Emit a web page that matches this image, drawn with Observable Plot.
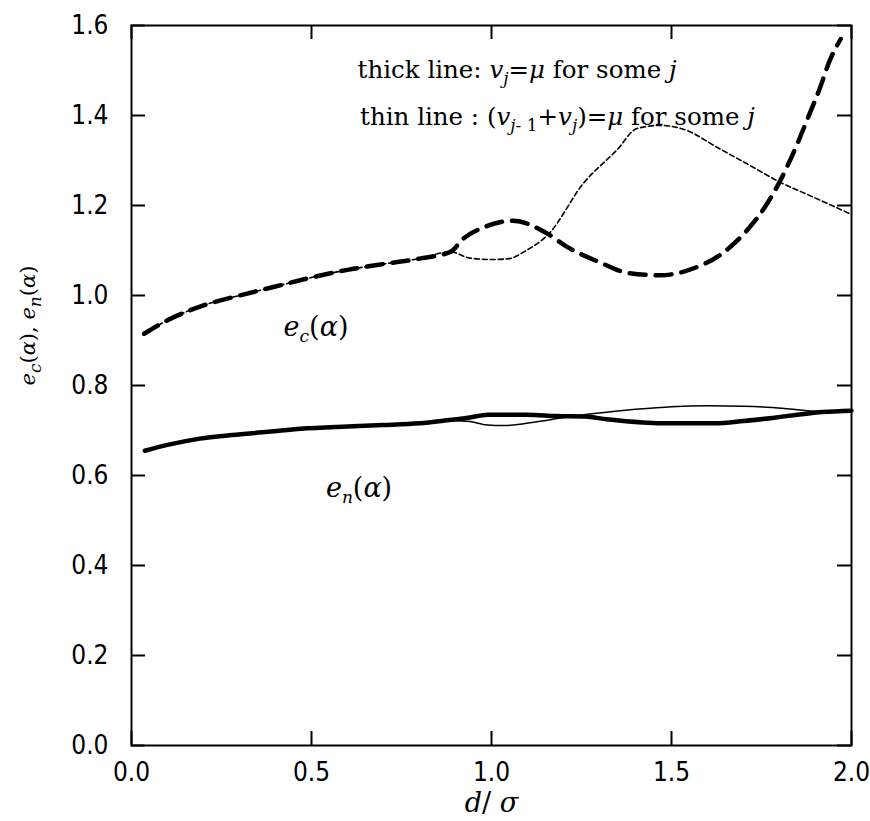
<!DOCTYPE html>
<html>
<head>
<meta charset="utf-8">
<script src="https://cdn.jsdelivr.net/npm/d3@7"></script>
<script src="https://cdn.jsdelivr.net/npm/@observablehq/plot@0.6"></script>
<style>
  html, body { margin: 0; padding: 0; background: white; }
</style>
</head>
<body>
<div id="chart"></div>
<script>
// ---- data ----
const xTicks = [0.0, 0.5, 1.0, 1.5, 2.0];
const yTicks = [0.0, 0.2, 0.4, 0.6, 0.8, 1.0, 1.2, 1.4, 1.6];

// e_c(alpha), thick dashed line: v_j = mu for some j
const ecThickD = [0.035, 0.1, 0.2, 0.3, 0.4, 0.5, 0.6, 0.7, 0.8, 0.886, 0.92, 0.98, 1.06, 1.15, 1.21, 1.3, 1.38, 1.47, 1.56, 1.64, 1.71, 1.76, 1.80, 1.85, 1.88, 1.91, 1.94, 1.97];
const ecThickV = [0.915, 0.945, 0.978, 1.0, 1.02, 1.04, 1.057, 1.07, 1.082, 1.097, 1.125, 1.152, 1.166, 1.14, 1.108, 1.074, 1.05, 1.045, 1.06, 1.093, 1.145, 1.197, 1.252, 1.338, 1.397, 1.456, 1.523, 1.57];

// e_c(alpha), thin line: (v_{j-1}+v_j) = mu for some j
const ecThinD = [0.035, 0.1, 0.2, 0.3, 0.4, 0.5, 0.6, 0.7, 0.8, 0.886, 0.94, 1.0, 1.05, 1.09, 1.16, 1.255, 1.348, 1.404, 1.468, 1.542, 1.625, 1.709, 1.801, 1.893, 2.0];
const ecThinV = [0.915, 0.945, 0.978, 1.0, 1.02, 1.04, 1.057, 1.07, 1.082, 1.097, 1.083, 1.08, 1.082, 1.097, 1.138, 1.249, 1.323, 1.371, 1.378, 1.367, 1.33, 1.293, 1.252, 1.219, 1.18];

// e_n(alpha), thick solid line
const enThickD = [0.037, 0.1, 0.19, 0.28, 0.38, 0.47, 0.6, 0.7, 0.8, 0.87, 0.94, 0.99, 1.1, 1.18, 1.26, 1.32, 1.42, 1.5, 1.62, 1.7, 1.78, 1.85, 1.92, 2.0];
const enThickV = [0.655, 0.668, 0.682, 0.69, 0.697, 0.704, 0.709, 0.712, 0.716, 0.722, 0.729, 0.735, 0.735, 0.732, 0.731, 0.725, 0.718, 0.716, 0.716, 0.721, 0.728, 0.735, 0.741, 0.744];

// e_n(alpha), thin solid line
const enThinD = [0.037, 0.1, 0.19, 0.28, 0.38, 0.47, 0.6, 0.7, 0.8, 0.87, 0.94, 0.98, 1.04, 1.09, 1.14, 1.2, 1.3, 1.4, 1.5, 1.6, 1.7, 1.78, 1.85, 1.92, 2.0];
const enThinV = [0.655, 0.668, 0.682, 0.69, 0.697, 0.704, 0.709, 0.712, 0.716, 0.722, 0.72, 0.713, 0.711, 0.715, 0.721, 0.729, 0.739, 0.747, 0.753, 0.755, 0.754, 0.751, 0.746, 0.742, 0.744];

// text (markup: *...* italic, _{...} subscript)
const legendThick = "thick line: *v*_{*j*}=*μ* for some *j*";
const legendThin = "thin line : (*v*_{*j*- 1}+*v*_{*j*})=*μ* for some *j*";
const ecLabel = "*e*_{*c*}(*α*)";
const enLabel = "*e*_{*n*}(*α*)";
const yLabel = "*e*_{*c*}(*α*), *e*_{*n*}(*α*)";
const xLabel = "*d*/ *σ*";

// ---- build tables ----
const zip = (D, V) => D.map((d, i) => ({d, v: V[i]}));
const ecThick = zip(ecThickD, ecThickV);
const ecThin = zip(ecThinD, ecThinV);
const enThick = zip(enThickD, enThickV);
const enThin = zip(enThinD, enThinV);

const W = 870, H = 821, ML = 131, MR = 19, MT = 25, MB = 76;
const PW = W - ML - MR, PH = H - MT - MB, TL = 14;
const serif = "DejaVu Serif";

const chart = Plot.plot({
  width: W, height: H,
  marginLeft: ML, marginRight: MR, marginTop: MT, marginBottom: MB,
  x: {domain: [0, 2]},
  y: {domain: [0, 1.6]},
  style: {fontFamily: "DejaVu Sans Condensed", fontSize: "26px", color: "black", background: "white"},
  marks: [
    Plot.axisX(xTicks, {tickSize: 0, tickPadding: 17, tickFormat: d3.format(".1f"), fontSize: 26, label: null}),
    Plot.axisY(yTicks, {tickSize: 0, tickPadding: 23, tickFormat: d3.format(".1f"), fontSize: 26, label: null}),
    // inward ticks on all four sides
    Plot.ruleX(xTicks, {x: d => d, insetTop: PH - TL, stroke: "black", strokeWidth: 2}),
    Plot.ruleX(xTicks, {x: d => d, insetBottom: PH - TL, stroke: "black", strokeWidth: 2}),
    Plot.ruleY(yTicks, {y: d => d, insetRight: PW - TL, stroke: "black", strokeWidth: 2}),
    Plot.ruleY(yTicks, {y: d => d, insetLeft: PW - TL, stroke: "black", strokeWidth: 2}),
    Plot.frame({stroke: "black", strokeWidth: 2}),
    // curves
    Plot.line(enThick, {x: "d", y: "v", stroke: "black", strokeWidth: 4.5, curve: "monotone-x"}),
    Plot.line(enThin, {x: "d", y: "v", stroke: "black", strokeWidth: 1.5, curve: "monotone-x"}),
    Plot.line(ecThin, {x: "d", y: "v", stroke: "black", strokeWidth: 1.6, strokeDasharray: "5,3", curve: "monotone-x"}),
    Plot.line(ecThick, {x: "d", y: "v", stroke: "black", strokeWidth: 4.5, strokeDasharray: "16,10", curve: "monotone-x"}),
    // annotations
    Plot.text([legendThick], {x: 0.628, y: 1.483, text: d => d, textAnchor: "start", lineAnchor: "bottom", fontFamily: serif, fontSize: 24.5, className: "rich"}),
    Plot.text([legendThin], {x: 0.635, y: 1.38, text: d => d, textAnchor: "start", lineAnchor: "bottom", fontFamily: serif, fontSize: 24.5, className: "rich"}),
    Plot.text([ecLabel], {x: 0.4225, y: 0.91, text: d => d, textAnchor: "start", lineAnchor: "bottom", fontFamily: serif, fontSize: 27, className: "rich"}),
    Plot.text([enLabel], {x: 0.54, y: 0.553, text: d => d, textAnchor: "start", lineAnchor: "bottom", fontFamily: serif, fontSize: 27, className: "rich"}),
    Plot.text([yLabel], {frameAnchor: "left", dx: -103, rotate: -90, text: d => d, lineAnchor: "middle", fontFamily: serif, fontSize: 21, className: "rich"}),
    Plot.text([xLabel], {frameAnchor: "bottom", dy: 66, text: d => d, lineAnchor: "bottom", fontFamily: serif, fontSize: 27, className: "rich"})
  ]
});

// convert the small markup into real tspans
function parseMarkup(s) {
  const segs = [];
  let italic = false, sub = false, buf = "";
  const flush = () => { if (buf) segs.push({t: buf, italic, sub}); buf = ""; };
  for (let i = 0; i < s.length; i++) {
    const c = s[i];
    if (c === "*") { flush(); italic = !italic; }
    else if (c === "_" && s[i + 1] === "{") { flush(); sub = true; i++; }
    else if (c === "}" && sub) { flush(); sub = false; }
    else buf += c;
  }
  flush();
  return segs;
}
d3.select(chart).selectAll("g.rich text").each(function () {
  const el = d3.select(this);
  const raw = this.textContent;
  const fs = parseFloat(getComputedStyle(this).fontSize) || 20;
  el.text(null);
  const segs = parseMarkup(raw);
  let shifted = 0;
  for (const s of segs) {
    const target = s.sub ? Math.round(fs * 0.3) : 0;
    const ts = el.append("tspan")
      .attr("font-style", s.italic ? "italic" : "normal")
      .text(s.t);
    if (target !== shifted) { ts.attr("dy", target - shifted); shifted = target; }
    if (s.sub) ts.attr("font-size", Math.round(fs * 0.85));
  }
});

document.getElementById("chart").appendChild(chart);
</script>
</body>
</html>
